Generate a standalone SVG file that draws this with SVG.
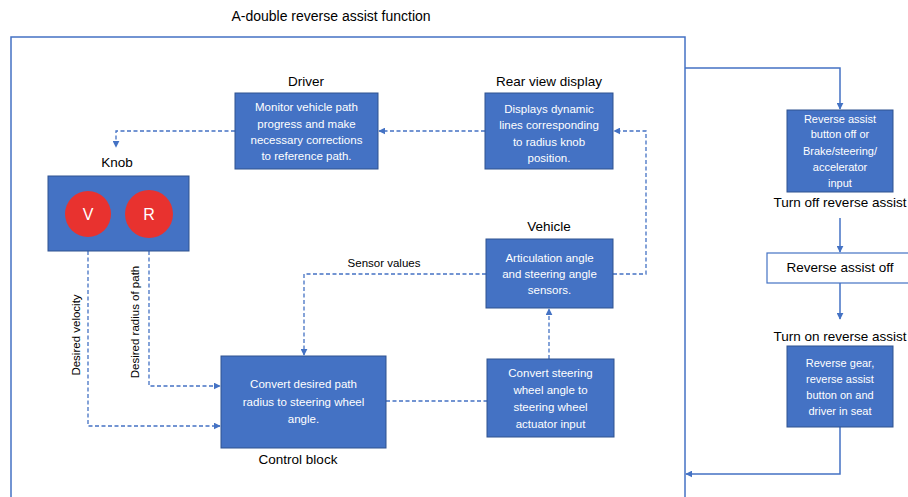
<svg xmlns="http://www.w3.org/2000/svg" width="908" height="497" viewBox="0 0 908 497">
<style>
text{font-family:"Liberation Sans","Open Sans",Arial,sans-serif}
.lbl{font-size:13.5px;fill:#000;text-anchor:middle}
.bt{font-size:11.5px;fill:#fff;text-anchor:middle}
.sm{font-size:11px;fill:#fff;text-anchor:middle}
.box{fill:#4472C4;stroke:#2F528F;stroke-width:1}
.dash{fill:none;stroke:#4472C4;stroke-width:1.3;stroke-dasharray:4 2.5}
.solid{fill:none;stroke:#4472C4;stroke-width:1.5}
.knob{fill:#E8322F}
</style>
<defs>
<marker id="ah" viewBox="0 0 10 10" refX="9" refY="5" markerWidth="7" markerHeight="7" markerUnits="userSpaceOnUse" orient="auto">
<path d="M0,0 L10,5 L0,10 z" fill="#4472C4"/>
</marker>
</defs>
<rect width="908" height="497" fill="#fff"/>
<text class="lbl" x="331" y="21" style="font-size:14px">A-double reverse assist function</text>
<rect x="11" y="37" width="674" height="480" fill="none" stroke="#4472C4" stroke-width="1.5"/>

<g id="connectors">
<path class="dash" d="M485,131 L379,131" marker-end="url(#ah)"/>
<path class="dash" d="M235,131 L116,131 L116,147" marker-end="url(#ah)"/>
<path class="dash" d="M613,274 L646,274 L646,131 L614,131" marker-end="url(#ah)"/>
<path class="dash" d="M486,274 L304,274 L304,355" marker-end="url(#ah)"/>
<path class="dash" d="M549,359 L549,309" marker-end="url(#ah)"/>
<path class="dash" d="M386,401 L487,401"/>
<path class="dash" d="M149,251 L149,386 L220,386" marker-end="url(#ah)"/>
<path class="dash" d="M88,251 L88,426 L220,426" marker-end="url(#ah)"/>
<path class="solid" d="M685,68 L840,68 L840,109" marker-end="url(#ah)"/>
<path class="solid" d="M840,218 L840,252" marker-end="url(#ah)"/>
<path class="solid" d="M840,283 L840,319" marker-end="url(#ah)"/>
<path class="solid" d="M840,427 L840,474 L686,474" marker-end="url(#ah)"/>
<text class="lbl" x="384" y="267" style="font-size:11.5px">Sensor values</text>
<text class="lbl" transform="translate(80,335) rotate(-90)" style="font-size:11.5px">Desired velocity</text>
<text class="lbl" transform="translate(139,322) rotate(-90)" style="font-size:11.5px">Desired radius of path</text>
</g>

<g id="driver">
<text class="lbl" x="306" y="86">Driver</text>
<rect class="box" x="235" y="93" width="143" height="76"/>
<text class="bt" x="306.5" y="111">Monitor vehicle path</text>
<text class="bt" x="306.5" y="127.5">progress and make</text>
<text class="bt" x="306.5" y="144">necessary corrections</text>
<text class="bt" x="306.5" y="160">to reference path.</text>
</g>

<g id="rear-view-display">
<text class="lbl" x="549" y="86">Rear view display</text>
<rect class="box" x="485" y="93" width="128" height="76"/>
<text class="bt" x="549" y="113">Displays  dynamic</text>
<text class="bt" x="549" y="129">lines corresponding</text>
<text class="bt" x="549" y="146">to radius knob</text>
<text class="bt" x="549" y="162">position.</text>
</g>

<g id="knob">
<text class="lbl" x="117" y="167">Knob</text>
<rect class="box" x="48" y="176" width="141" height="75"/>
<circle class="knob" cx="88" cy="214" r="23"/>
<circle class="knob" cx="149" cy="214" r="24"/>
<text x="88" y="220" style="font-size:16px;fill:#fff;text-anchor:middle">V</text>
<text x="149" y="220" style="font-size:16px;fill:#fff;text-anchor:middle">R</text>
</g>

<g id="vehicle">
<text class="lbl" x="549" y="231">Vehicle</text>
<rect class="box" x="486" y="239" width="127" height="69"/>
<text class="bt" x="549.5" y="262">Articulation angle</text>
<text class="bt" x="549.5" y="278">and steering angle</text>
<text class="bt" x="549.5" y="294">sensors.</text>
</g>

<g id="control-block">
<rect class="box" x="221" y="356" width="165" height="92"/>
<text class="bt" x="303.5" y="388">Convert desired path</text>
<text class="bt" x="303.5" y="406">radius to steering wheel</text>
<text class="bt" x="303.5" y="423">angle.</text>
<text class="lbl" x="298" y="464">Control block</text>
</g>

<g id="convert-steering">
<rect class="box" x="487" y="359" width="127" height="78"/>
<text class="bt" x="550.5" y="377">Convert steering</text>
<text class="bt" x="550.5" y="394">wheel angle to</text>
<text class="bt" x="550.5" y="411">steering wheel</text>
<text class="bt" x="550.5" y="428">actuator input</text>
</g>

<g id="turn-off">
<rect class="box" x="787" y="110" width="106" height="82"/>
<text class="sm" x="840" y="123">Reverse assist</text>
<text class="sm" x="840" y="138">button off or</text>
<text class="sm" x="840" y="155">Brake/steering/</text>
<text class="sm" x="840" y="171">accelerator</text>
<text class="sm" x="840" y="187">input</text>
<text class="lbl" x="840" y="207">Turn off reverse assist</text>
</g>

<g id="reverse-assist-off">
<rect x="767" y="253" width="145" height="30" fill="#fff" stroke="#4472C4" stroke-width="1.2"/>
<text class="lbl" x="840" y="272">Reverse assist off</text>
</g>

<g id="turn-on">
<text class="lbl" x="840" y="341">Turn on reverse assist</text>
<rect class="box" x="787" y="346" width="106" height="81"/>
<text class="sm" x="840" y="367">Reverse gear,</text>
<text class="sm" x="840" y="383">reverse assist</text>
<text class="sm" x="840" y="399">button on and</text>
<text class="sm" x="840" y="415">driver in seat</text>
</g>
</svg>
